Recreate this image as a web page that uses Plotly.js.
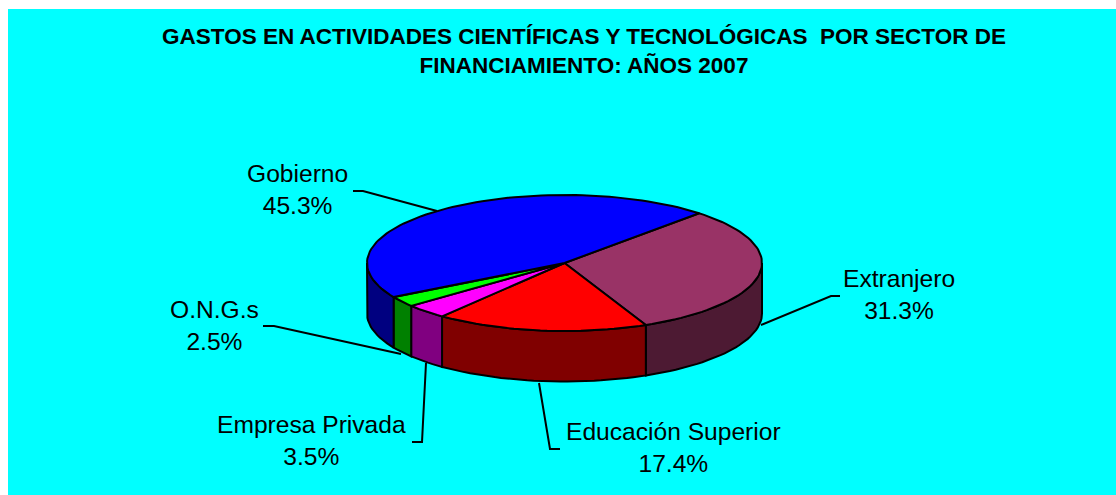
<!DOCTYPE html>
<html>
<head>
<meta charset="utf-8">
<script src="https://cdn.plot.ly/plotly-3.0.1.min.js"></script>
<style>html,body{margin:0;padding:0;background:#fff}#chart{width:1116px;height:495px}</style>
</head>
<body>
<div id="chart"></div>
<script>
// Data, clockwise from the Gobierno / Extranjero boundary
const categories = ["Extranjero", "Educación Superior", "Empresa Privada", "O.N.G.s", "Gobierno"];
const shares = [31.3, 17.4, 3.5, 2.5, 45.3];
const topColors = ["#993366", "#FF0000", "#FF00FF", "#00FF00", "#0000FF"];
const sideColors = ["#4D1A33", "#800000", "#800080", "#008000", "#000080"];
const titleText = "GASTOS EN ACTIVIDADES CIENTÍFICAS Y TECNOLÓGICAS  POR SECTOR DE<br>FINANCIAMIENTO: AÑOS 2007";

// Pie projection, in axis units
const cx = 564.5, cy = 263, rx = 197.5, ry = 68, depth = 50.5, startDeg = 43;
const labelPos = [[899, 294], [673, 447], [311, 440], [214, 325], [297, 189]];
const leaders = [
  [[761, 325], [831, 296], [840, 296]],
  [[539, 383], [550, 449], [560, 449]],
  [[426, 363], [422, 442], [412, 442]],
  [[401, 354], [274, 326], [263, 326]],
  [[437, 211], [363, 191], [353, 191]]
];

const total = shares.reduce((a, b) => a + b, 0);
const px = d => cx + rx * Math.sin(d * Math.PI / 180);
const py = (d, z) => cy - ry * Math.cos(d * Math.PI / 180) + z;
function arc(a, b, z) {
  const n = Math.max(2, Math.ceil(Math.abs(b - a) / 2));
  const out = [];
  for (let i = 0; i <= n; i++) {
    const d = a + (b - a) * i / n;
    out.push([px(d), py(d, z)]);
  }
  return out;
}
const traces = [];
function face(points, color) {
  const closed = points.concat([points[0]]);
  traces.push({
    type: "scatter", mode: "lines", fill: "toself", fillcolor: color,
    x: closed.map(p => p[0]), y: closed.map(p => p[1]),
    line: { color: "#000", width: 2 }, hoverinfo: "skip", showlegend: false
  });
}
let cum = startDeg;
const spans = shares.map(v => { const a = cum; cum += v / total * 360; return [a, cum]; });

// Side walls: only the front half (90 to 270 degrees) shows
spans.forEach((s, i) => {
  const a = Math.max(s[0], 90), b = Math.min(s[1], 270);
  if (b > a) face(arc(a, b, 0).concat(arc(b, a, depth)), sideColors[i]);
});
// Top faces
spans.forEach((s, i) => {
  face([[cx, cy]].concat(arc(s[0], s[1], 0)), topColors[i]);
});

const annotations = categories.map((c, i) => ({
  x: labelPos[i][0], y: labelPos[i][1], xref: "x", yref: "y",
  text: c + "<br>" + shares[i].toFixed(1) + "%", showarrow: false,
  xanchor: "center", yanchor: "middle", align: "center",
  font: { family: "Liberation Sans, Arial, sans-serif", size: 24.6, color: "#000" }
}));
const shapes = leaders.map(l => ({
  type: "path", xref: "x", yref: "y", layer: "above",
  path: "M" + l.map(p => p[0] + "," + p[1]).join("L"),
  line: { color: "#000", width: 2 }
}));

Plotly.newPlot("chart", traces, {
  width: 1116, height: 495,
  margin: { l: 8, r: 0, t: 9, b: 0, pad: 0 },
  paper_bgcolor: "#FFFFFF", plot_bgcolor: "#00FFFF",
  showlegend: false,
  title: {
    text: titleText, x: 584 / 1116, xanchor: "center", y: 1 - 44 / 495, yanchor: "middle",
    font: { family: "Liberation Sans, Arial, sans-serif", size: 22.5, color: "#000", weight: "bold" }
  },
  xaxis: { range: [8, 1116], visible: false, fixedrange: true },
  yaxis: { range: [495, 9], visible: false, fixedrange: true },
  annotations, shapes
}, { displayModeBar: false, staticPlot: true });
</script>
</body>
</html>
